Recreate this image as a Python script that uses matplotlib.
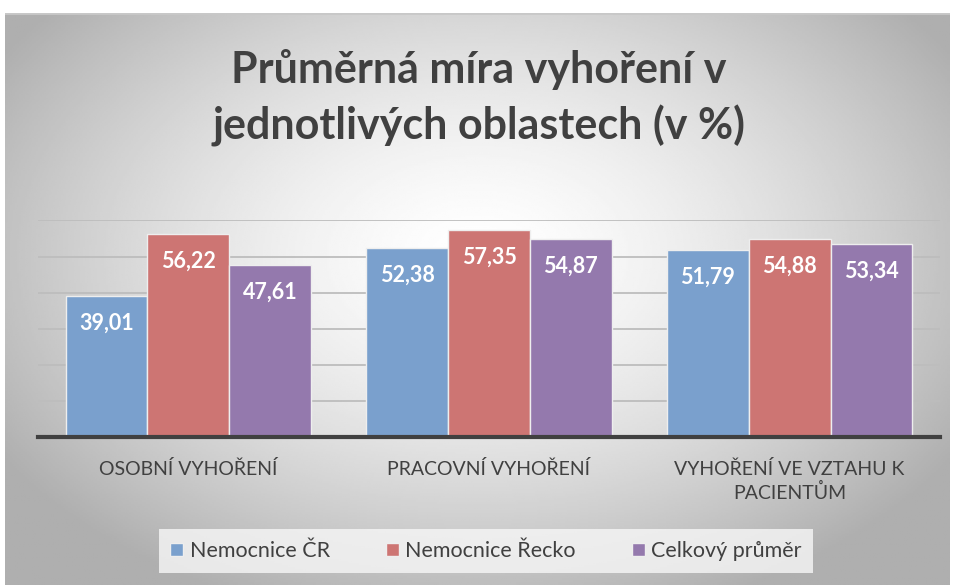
import numpy as np
import matplotlib.pyplot as plt

plt.rcParams['font.family'] = ['Lato', 'DejaVu Sans']

kategorie = ['OSOBNÍ VYHOŘENÍ', 'PRACOVNÍ VYHOŘENÍ', 'VYHOŘENÍ VE VZTAHU K\nPACIENTŮM']
serie = ['Nemocnice ČR', 'Nemocnice Řecko', 'Celkový průměr']
hodnoty_cr = [39.01, 52.38, 51.79]
hodnoty_recko = [56.22, 57.35, 54.88]
hodnoty_prumer = [47.61, 54.87, 53.34]
barvy = ['#7aa0cd', '#cd7573', '#9479ad']

W, H = 958, 585
fig = plt.figure(figsize=(W / 100, H / 100), dpi=100)

# pozadi s radialnim prechodem
bg = fig.add_axes([5 / W, 0, 945 / W, (H - 13) / H])
yy, xx = np.mgrid[-1:1:300j, -1:1:500j]
r = np.sqrt((xx / 1.0) ** 2 + ((yy + 0.15) / 1.1) ** 2)
shade = 1.0 - 0.24 * np.clip(r, 0, 1.2) ** 1.5
bg.imshow(shade, cmap='gray', vmin=0, vmax=1, aspect='auto', extent=[0, 1, 0, 1])
bg.plot([0, 1], [1, 1], color='#c8c8c8', lw=2)
bg.set_xlim(0, 1)
bg.set_ylim(0, 1)
bg.axis('off')

ax = fig.add_axes([38 / W, (H - 437) / H, 902 / W, 216.6 / H])
ax.patch.set_alpha(0)
x = np.arange(len(kategorie))
sirka = 0.272
for i, (vals, barva) in enumerate(zip([hodnoty_cr, hodnoty_recko, hodnoty_prumer], barvy)):
    pos = x + (i - 1) * sirka
    bars = ax.bar(pos, vals, width=sirka, color=barva, edgecolor='#eeeeee', linewidth=1, label=serie[i], zorder=3)
    for b, v in zip(bars, vals):
        ax.text(b.get_x() + b.get_width() / 2, v - 7.5, f'{v:.2f}'.replace('.', ','),
                ha='center', va='center', color='white', fontsize=15.5, fontweight='bold', zorder=4)

ax.set_xlim(-0.5, 2.5)
ax.set_ylim(0, 60)
ax.set_yticks(np.arange(10, 61, 10))
ax.yaxis.grid(True, color='#bdbdbd', linewidth=1.3, zorder=0)
ax.tick_params(left=False, labelleft=False, bottom=False, labelbottom=False)
for s in ['top', 'right', 'left']:
    ax.spines[s].set_visible(False)
ax.spines['bottom'].set_color('#404040')
ax.spines['bottom'].set_linewidth(3)
ax.spines['bottom'].set_zorder(5)

for xi, k in zip(x, kategorie):
    ax.text(xi, -6.5, k, ha='center', va='top', fontsize=14, color='#404040', linespacing=1.3)

fig.text(0.5, 1 - 98 / H, 'Průměrná míra vyhoření v\njednotlivých oblastech (v %)', ha='center', va='center',
         fontsize=31, fontweight='bold', color='#404040', linespacing=1.4)

leg = fig.legend(loc='center', bbox_to_anchor=(486 / W, 1 - 551 / H), ncol=3, frameon=True,
                 fontsize=15.5, handlelength=0.6, handleheight=0.6, handletextpad=0.3, columnspacing=2.6,
                 borderpad=0.55, borderaxespad=0, fancybox=False)
leg.get_frame().set_facecolor('#f7f7f7')
leg.get_frame().set_edgecolor('none')
for t in leg.get_texts():
    t.set_color('#404040')

fig.savefig('out.png', dpi=100)
